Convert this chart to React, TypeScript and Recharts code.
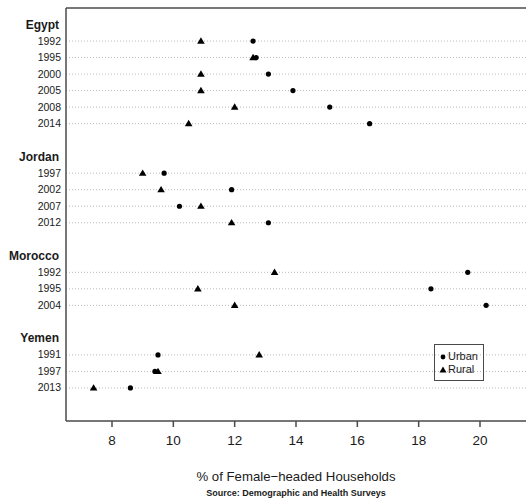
import { ScatterChart, Scatter, XAxis, YAxis, ReferenceLine } from 'recharts';

// Survey years and % female-headed households per country
const countries = ['Egypt', 'Jordan', 'Morocco', 'Yemen'];

const egyptYears = ['1992', '1995', '2000', '2005', '2008', '2014'];
const egyptUrban = [12.6, 12.7, 13.1, 13.9, 15.1, 16.4];
const egyptRural = [10.9, 12.6, 10.9, 10.9, 12.0, 10.5];

const jordanYears = ['1997', '2002', '2007', '2012'];
const jordanUrban = [9.7, 11.9, 10.2, 13.1];
const jordanRural = [9.0, 9.6, 10.9, 11.9];

const moroccoYears = ['1992', '1995', '2004'];
const moroccoUrban = [19.6, 18.4, 20.2];
const moroccoRural = [13.3, 10.8, 12.0];

const yemenYears = ['1991', '1997', '2013'];
const yemenUrban = [9.5, 9.4, 8.6];
const yemenRural = [12.8, 9.5, 7.4];

const xTicks = [8, 10, 12, 14, 16, 18, 20];

const groups = [
  { years: egyptYears, urban: egyptUrban, rural: egyptRural },
  { years: jordanYears, urban: jordanUrban, rural: jordanRural },
  { years: moroccoYears, urban: moroccoUrban, rural: moroccoRural },
  { years: yemenYears, urban: yemenUrban, rural: yemenRural },
];

// one row per header / survey year, with a blank row after each country
type RowLabel = { row: number; text: string; header: boolean };
const labels: RowLabel[] = [];
const urbanPts: { x: number; y: number }[] = [];
const ruralPts: { x: number; y: number }[] = [];
let row = 0;
groups.forEach((g, gi) => {
  labels.push({ row, text: countries[gi], header: true });
  row++;
  g.years.forEach((yr, i) => {
    labels.push({ row, text: yr, header: false });
    urbanPts.push({ x: g.urban[i], y: row });
    ruralPts.push({ x: g.rural[i], y: row });
    row++;
  });
  row++;
});
const yearRows = labels.filter(l => !l.header).map(l => l.row);

const FONT = '"Liberation Sans", Arial, sans-serif';
const BORDER = '#4a4a4a';

const RowTick = (props: any) => {
  const { x, y, payload } = props;
  const lab = labels.find(l => l.row === payload.value);
  if (!lab) return null;
  return (
    <text
      x={lab.header ? x - 2 : x}
      y={y}
      dy={lab.header ? 4 : 3.5}
      textAnchor="end"
      fontFamily={FONT}
      fontSize={lab.header ? 12 : 10.5}
      fontWeight={lab.header ? 'bold' : 'normal'}
      fill="#1a1a1a"
    >
      {lab.text}
    </text>
  );
};

const Dot = (props: any) => <circle cx={props.cx} cy={props.cy} r={2.6} fill="#000" />;

const Tri = (props: any) => {
  const { cx, cy } = props;
  return <path d={`M${cx},${cy - 3.8} L${cx + 3.8},${cy + 2.6} L${cx - 3.8},${cy + 2.6} Z`} fill="#000" />;
};

export default function App() {
  return (
    <div style={{ position: 'absolute', left: 0, top: 0, width: 526, height: 504, overflow: 'hidden', background: '#fff' }}>
      <ScatterChart width={526} height={504} margin={{ top: 8, right: 0, bottom: 53, left: 0 }}>
        <XAxis
          type="number"
          dataKey="x"
          domain={[6.5, 21.5]}
          ticks={xTicks}
          allowDataOverflow
          height={30}
          tickSize={6}
          tickMargin={8}
          stroke={BORDER}
          strokeWidth={1.5}
          tick={{ fontFamily: FONT, fontSize: 13.5, fill: '#1a1a1a' }}
        />
        <YAxis
          type="number"
          dataKey="y"
          domain={[-1, 24]}
          reversed
          ticks={labels.map(l => l.row)}
          interval={0}
          width={66}
          tickLine={false}
          tickSize={5}
          tickMargin={0}
          stroke={BORDER}
          strokeWidth={1.5}
          tick={<RowTick />}
        />
        {yearRows.map(r => (
          <ReferenceLine key={r} y={r} stroke="#b8b8b8" strokeDasharray="1 2" />
        ))}
        <ReferenceLine y={-1} stroke={BORDER} strokeWidth={1.5} />
        <Scatter data={urbanPts} shape={<Dot />} isAnimationActive={false} />
        <Scatter data={ruralPts} shape={<Tri />} isAnimationActive={false} />
      </ScatterChart>

      <div
        style={{
          position: 'absolute', left: 434, top: 344, width: 48, height: 35,
          border: `1.5px solid ${BORDER}`, fontFamily: FONT, fontSize: 11, color: '#1a1a1a',
        }}
      >
        <svg width={12} height={35} style={{ position: 'absolute', left: 2, top: 0 }}>
          <circle cx={6} cy={12} r={2.4} fill="#000" />
          <path d="M6,21.5 L9.5,27.5 L2.5,27.5 Z" fill="#000" />
        </svg>
        <div style={{ position: 'absolute', left: 13, top: 5, lineHeight: '13px' }}>Urban</div>
        <div style={{ position: 'absolute', left: 13, top: 18, lineHeight: '13px' }}>Rural</div>
      </div>

      <div style={{ position: 'absolute', left: 66, width: 460, top: 469, textAlign: 'center', fontFamily: FONT, fontSize: 13.2, color: '#1a1a1a' }}>
        % of Female−headed Households
      </div>
      <div style={{ position: 'absolute', left: 66, width: 460, top: 488, textAlign: 'center', fontFamily: FONT, fontSize: 9, fontWeight: 'bold', color: '#1a1a1a' }}>
        Source: Demographic and Health Surveys
      </div>
    </div>
  );
}
